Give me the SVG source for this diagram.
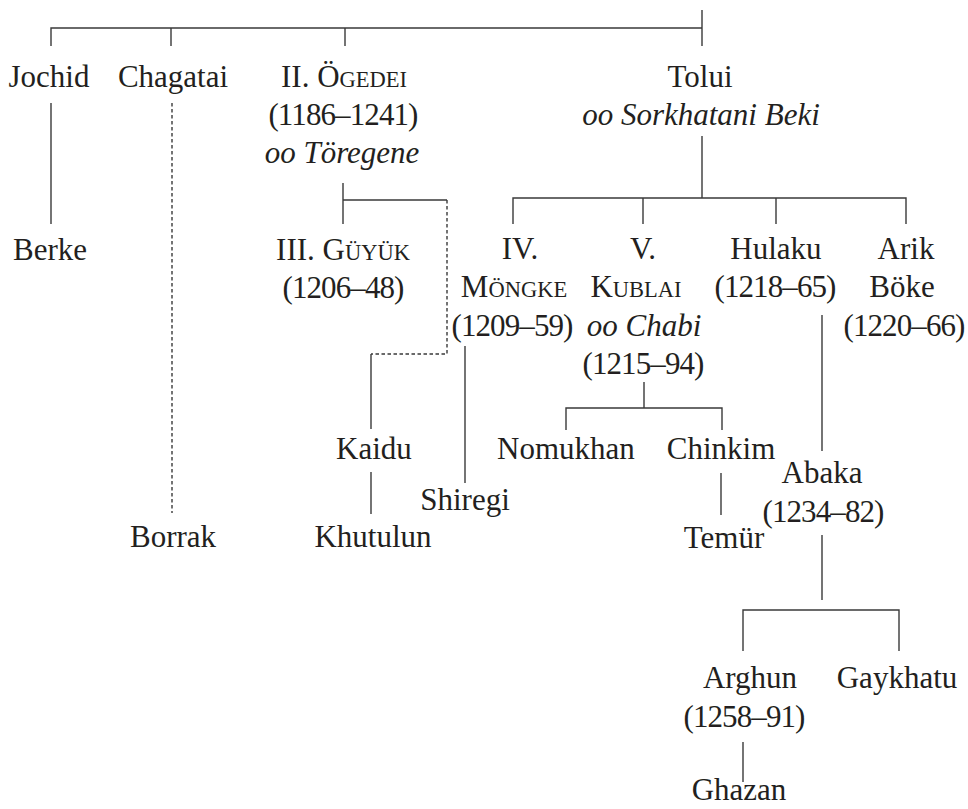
<svg xmlns="http://www.w3.org/2000/svg" width="968" height="809" viewBox="0 0 968 809">
<style>
text{font-family:"Liberation Serif","Times New Roman",serif;font-size:31px;fill:#231f20;text-anchor:middle}
.i{font-style:italic}
.n{letter-spacing:-0.9px}
.sc{font-size:22.5px}
.l{stroke:#3a3a3a;stroke-width:1.4;fill:none}
.d{stroke:#3a3a3a;stroke-width:1.4;fill:none;stroke-dasharray:3.5 2.5}
</style>
<rect width="968" height="809" fill="#fff"/>
<g id="connectors">
<path class="l" d="M51 46V28H702M702 10V46M171 28V46M345 28V46"/>
<path class="l" d="M51 103V224"/>
<path class="d" d="M172 103V513"/>
<path class="l" d="M343 183V224M343 200H447"/>
<path class="d" d="M447 200V354H371"/>
<path class="l" d="M371 354V429"/>
<path class="l" d="M702 136V198M513 224V198H906V224M643 198V224M776 198V224"/>
<path class="l" d="M465 346V483"/>
<path class="l" d="M644 382V408M566 430V408H722V430"/>
<path class="l" d="M371 472V514"/>
<path class="l" d="M721 473V515"/>
<path class="l" d="M822 315V451"/>
<path class="l" d="M822 535V600M743 651V610H899V651"/>
<path class="l" d="M743 742V782"/>
</g>
<g id="jochid"><text x="49" y="87">Jochid</text></g>
<g id="chagatai"><text x="173" y="87">Chagatai</text></g>
<g id="ogedei"><text x="344" y="87">II. Ö<tspan class="sc">GEDEI</tspan></text><text class="n" x="343" y="125">(1186–1241)</text><text class="i" x="342" y="163">oo Töregene</text></g>
<g id="tolui"><text x="700" y="87">Tolui</text><text class="i" x="701" y="125">oo Sorkhatani Beki</text></g>
<g id="berke"><text x="50" y="260">Berke</text></g>
<g id="guyuk"><text x="343" y="260">III. G<tspan class="sc">ÜYÜK</tspan></text><text class="n" x="343" y="298">(1206–48)</text></g>
<g id="mongke"><text x="520" y="259">IV.</text><text x="514" y="297">M<tspan class="sc">ÖNGKE</tspan></text><text class="n" x="512" y="336">(1209–59)</text></g>
<g id="kublai"><text x="643" y="259">V.</text><text x="636" y="297">K<tspan class="sc">UBLAI</tspan></text><text class="i" x="644" y="336">oo Chabi</text><text class="n" x="643" y="374">(1215–94)</text></g>
<g id="hulaku"><text x="776" y="259">Hulaku</text><text class="n" x="775" y="297">(1218–65)</text></g>
<g id="arikboke"><text x="906" y="259">Arik</text><text x="902" y="297">Böke</text><text class="n" x="904" y="336">(1220–66)</text></g>
<g id="kaidu"><text x="374" y="459">Kaidu</text></g>
<g id="nomukhan"><text x="566" y="459">Nomukhan</text></g>
<g id="chinkim"><text x="721" y="459">Chinkim</text></g>
<g id="shiregi"><text x="465" y="510">Shiregi</text></g>
<g id="abaka"><text x="822" y="483">Abaka</text><text class="n" x="823" y="522">(1234–82)</text></g>
<g id="borrak"><text x="173" y="547">Borrak</text></g>
<g id="khutulun"><text x="373" y="547">Khutulun</text></g>
<g id="temur"><text x="724" y="548">Temür</text></g>
<g id="arghun"><text x="750" y="688">Arghun</text><text class="n" x="744" y="727">(1258–91)</text></g>
<g id="gaykhatu"><text x="897" y="688">Gaykhatu</text></g>
<g id="ghazan"><text x="739" y="800">Ghazan</text></g>
</svg>
